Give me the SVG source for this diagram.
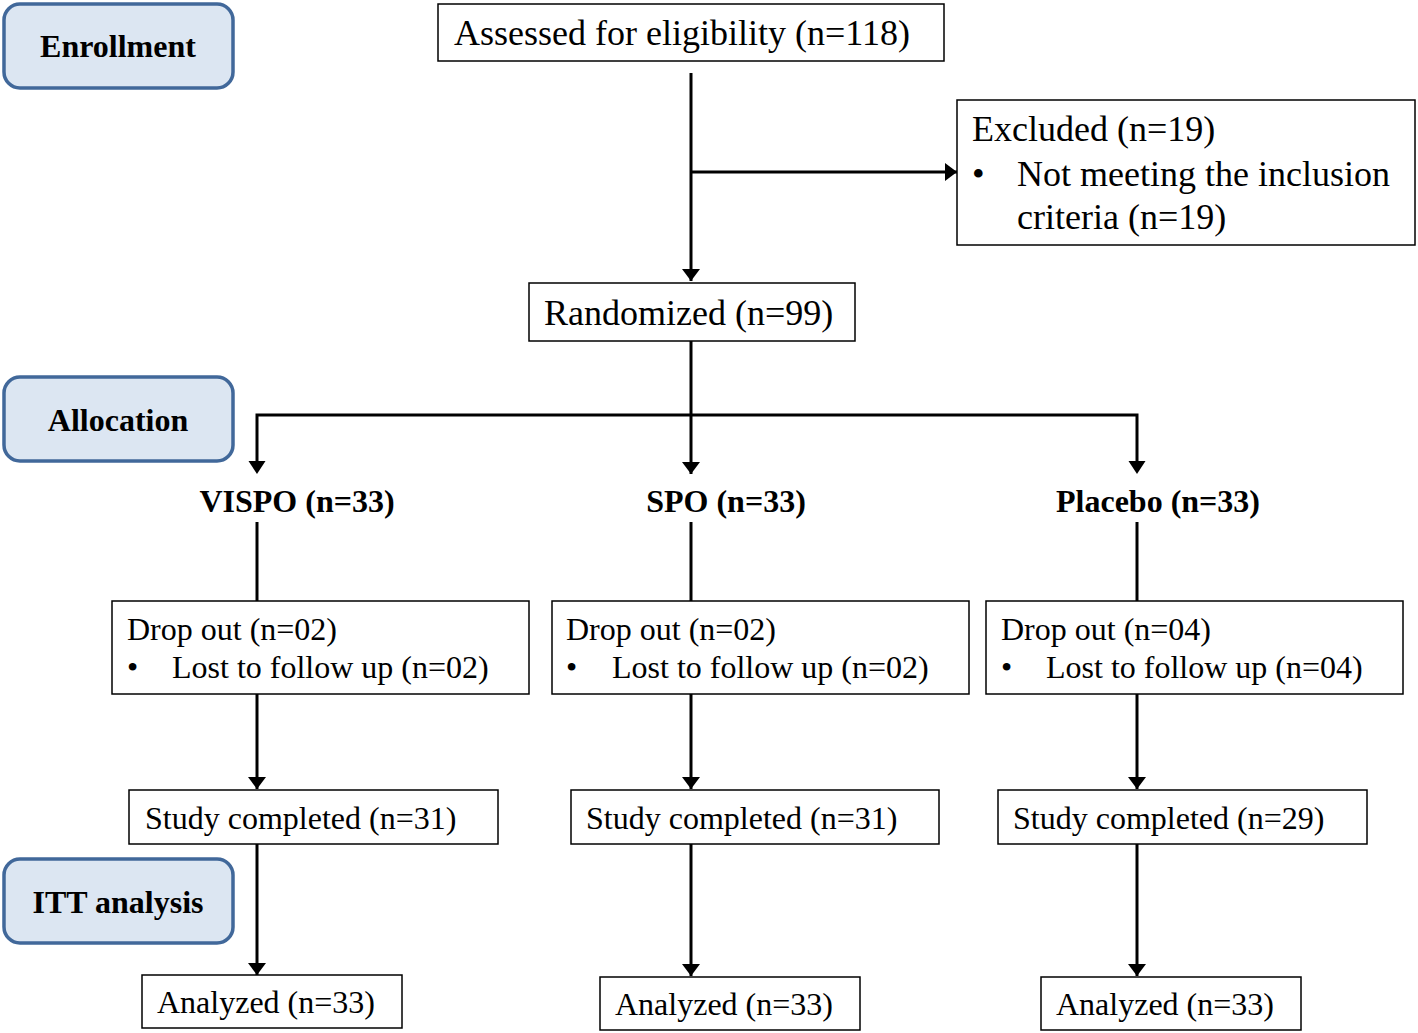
<svg xmlns="http://www.w3.org/2000/svg" width="1418" height="1033" viewBox="0 0 1418 1033">
<style>
.stage{fill:#dce6f2;stroke:#41689a;stroke-width:3.5}
.stxt{font-family:"Liberation Serif",serif;font-weight:bold;font-size:32px;fill:#000;text-anchor:middle}
.box{fill:#fff;stroke:#000;stroke-width:1.5}
.t{font-family:"Liberation Serif",serif;font-size:32px;fill:#000}
.tl{font-family:"Liberation Serif",serif;font-size:36px;fill:#000}
.b{font-family:"Liberation Serif",serif;font-weight:bold;font-size:32px;fill:#000;text-anchor:middle}
.ln{fill:none;stroke:#000;stroke-width:3}
</style>
<defs>
<marker id="arr" viewBox="0 0 12 18" refX="12" refY="9" markerWidth="12" markerHeight="18" markerUnits="userSpaceOnUse" orient="auto">
<path d="M0,0 L12,9 L0,18 z" fill="#000"/>
</marker>
</defs>
<g id="stage-enrollment"><rect class="stage" x="4" y="4" width="229" height="84" rx="16"/><text class="stxt" x="118" y="57">Enrollment</text></g>
<g id="stage-allocation"><rect class="stage" x="4" y="377" width="229" height="84" rx="16"/><text class="stxt" x="118" y="431">Allocation</text></g>
<g id="stage-itt"><rect class="stage" x="4" y="859" width="229" height="84" rx="16"/><text class="stxt" x="118" y="913">ITT analysis</text></g>

<g id="connectors">
<path class="ln" d="M691,73 V281" marker-end="url(#arr)"/>
<path class="ln" d="M691,172 H957" marker-end="url(#arr)"/>
<path class="ln" d="M691,341 V415"/>
<path class="ln" d="M257,462 V415 H1137 V462"/>
<path d="M248.5,461 L265.5,461 L257,474 z" fill="#000"/>
<path d="M1128.5,461 L1145.5,461 L1137,474 z" fill="#000"/>
<path class="ln" d="M691,415 V474" marker-end="url(#arr)"/>
<path class="ln" d="M257,522 V601"/>
<path class="ln" d="M691,522 V601"/>
<path class="ln" d="M1137,522 V601"/>
<path class="ln" d="M257,694 V789" marker-end="url(#arr)"/>
<path class="ln" d="M691,694 V789" marker-end="url(#arr)"/>
<path class="ln" d="M1137,694 V789" marker-end="url(#arr)"/>
<path class="ln" d="M257,844 V975" marker-end="url(#arr)"/>
<path class="ln" d="M691,844 V976" marker-end="url(#arr)"/>
<path class="ln" d="M1137,844 V976" marker-end="url(#arr)"/>
</g>

<g id="assessed"><rect class="box" x="438" y="4" width="506" height="57"/><text class="tl" x="454" y="45">Assessed for eligibility (n=118)</text></g>
<g id="excluded"><rect class="box" x="957" y="100" width="458" height="145"/>
<text class="tl" x="972" y="141">Excluded (n=19)</text>
<text class="tl" x="972" y="186">•</text>
<text class="tl" x="1017" y="186">Not meeting the inclusion</text>
<text class="tl" x="1017" y="229">criteria (n=19)</text></g>
<g id="randomized"><rect class="box" x="529" y="283" width="326" height="58"/><text class="tl" x="544" y="325">Randomized (n=99)</text></g>

<g id="vispo"><text class="b" x="297" y="512">VISPO (n=33)</text></g>
<g id="spo"><text class="b" x="726" y="512">SPO (n=33)</text></g>
<g id="placebo"><text class="b" x="1158" y="512">Placebo (n=33)</text></g>

<g id="drop-vispo"><rect class="box" x="112" y="601" width="417" height="93"/>
<text class="t" x="127" y="640">Drop out (n=02)</text><text class="t" x="127" y="678">•</text><text class="t" x="172" y="678">Lost to follow up (n=02)</text></g>
<g id="drop-spo"><rect class="box" x="552" y="601" width="417" height="93"/>
<text class="t" x="566" y="640">Drop out (n=02)</text><text class="t" x="566" y="678">•</text><text class="t" x="612" y="678">Lost to follow up (n=02)</text></g>
<g id="drop-placebo"><rect class="box" x="986" y="601" width="417" height="93"/>
<text class="t" x="1001" y="640">Drop out (n=04)</text><text class="t" x="1001" y="678">•</text><text class="t" x="1046" y="678">Lost to follow up (n=04)</text></g>

<g id="comp-vispo"><rect class="box" x="129" y="790" width="369" height="54"/><text class="t" x="145" y="829">Study completed (n=31)</text></g>
<g id="comp-spo"><rect class="box" x="571" y="790" width="368" height="54"/><text class="t" x="586" y="829">Study completed (n=31)</text></g>
<g id="comp-placebo"><rect class="box" x="998" y="790" width="369" height="54"/><text class="t" x="1013" y="829">Study completed (n=29)</text></g>

<g id="an-vispo"><rect class="box" x="142" y="975" width="260" height="53"/><text class="t" x="157" y="1013">Analyzed (n=33)</text></g>
<g id="an-spo"><rect class="box" x="600" y="977" width="260" height="53"/><text class="t" x="615" y="1015">Analyzed (n=33)</text></g>
<g id="an-placebo"><rect class="box" x="1041" y="977" width="260" height="53"/><text class="t" x="1056" y="1015">Analyzed (n=33)</text></g>
</svg>
